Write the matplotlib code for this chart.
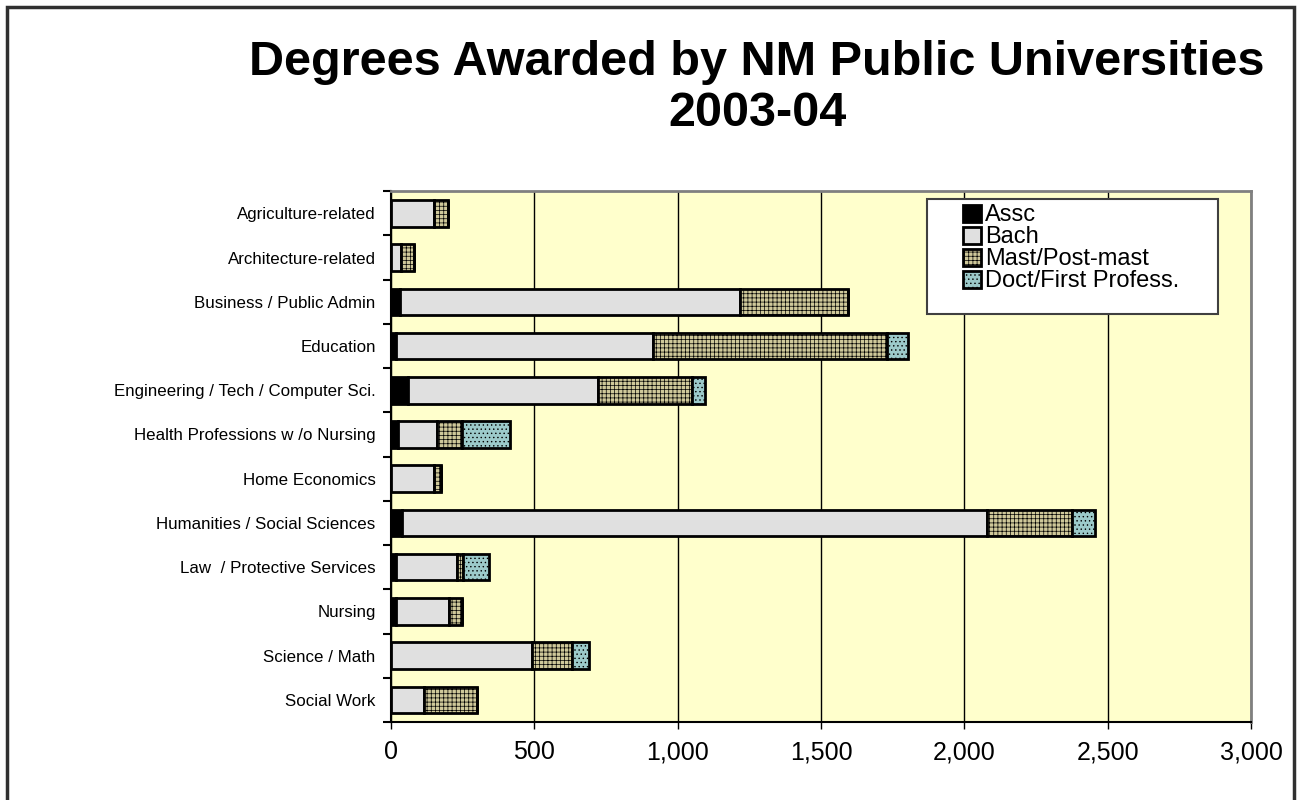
import numpy as np
import matplotlib.pyplot as plt
from matplotlib.patches import Rectangle
from matplotlib.ticker import FuncFormatter, MultipleLocator

plt.rcParams['font.family'] = ['Liberation Sans', 'DejaVu Sans']
plt.rcParams['hatch.linewidth'] = 0.5

categories = ['Agriculture-related', 'Architecture-related', 'Business / Public Admin',
              'Education', 'Engineering / Tech / Computer Sci.', 'Health Professions w /o Nursing',
              'Home Economics', 'Humanities / Social Sciences', 'Law  / Protective Services',
              'Nursing', 'Science / Math', 'Social Work']
assc = [0, 0, 31, 17, 60, 23, 0, 38, 16, 16, 0, 0]
bach = [150, 35, 1187, 896, 663, 136, 150, 2042, 215, 186, 493, 115]
mast = [48, 46, 377, 819, 326, 88, 24, 297, 21, 46, 139, 184]
doct = [0, 0, 0, 73, 47, 168, 0, 79, 90, 0, 58, 0]

series = [
    ('Assc', assc, '#000000', None),
    ('Bach', bach, '#E0E0E0', None),
    ('Mast/Post-mast', mast, '#CFC89A', '++++'),
    ('Doct/First Profess.', doct, '#9CCACA', '....'),
]

fig = plt.figure(figsize=(13.02, 8.0), dpi=100)
ax = fig.add_axes([0.3003, 0.0975, 0.6605, 0.6635])
ax.set_facecolor('#FFFFCC')

y = np.arange(len(categories))
left = np.zeros(len(categories))
for name, vals, color, hatch in series:
    vals = np.array(vals, dtype=float)
    ax.barh(y, vals, left=left, height=0.6, color=color, edgecolor='black',
            linewidth=2, hatch=hatch, label=name, zorder=3)
    left += vals

ax.set_xlim(0, 3000)
ax.set_ylim(len(categories) - 0.5, -0.5)
ax.xaxis.set_major_locator(MultipleLocator(500))
ax.xaxis.set_major_formatter(FuncFormatter(lambda v, p: f'{int(v):,}'))
ax.grid(axis='x', color='black', linewidth=1, zorder=0)
ax.set_axisbelow(True)

ax.set_yticks(y)
ax.set_yticklabels(categories, fontsize=12.2)
ax.set_yticks(np.arange(len(categories) + 1) - 0.5, minor=True)
ax.tick_params(axis='y', which='major', length=0, pad=11)
ax.tick_params(axis='y', which='minor', length=6, width=1.5, direction='out')
ax.tick_params(axis='x', labelsize=18, length=5, width=1, direction='out', pad=8)

for s in ['top', 'right']:
    ax.spines[s].set_color('#808080')
    ax.spines[s].set_linewidth(2)
ax.spines['left'].set_linewidth(1.5)
ax.spines['bottom'].set_linewidth(1.5)

# legend box drawn separately (Excel puts extra room on the left)
ax.add_patch(Rectangle((0.623, 0.768), 0.3386, 0.217, transform=ax.transAxes,
                       facecolor='white', edgecolor='#404040', linewidth=1.5,
                       zorder=4))
leg = ax.legend(loc='upper left', bbox_to_anchor=(0.665, 0.975), fontsize=17,
                frameon=False, labelspacing=0.0, handlelength=0.75,
                handleheight=0.75, handletextpad=0.2, borderpad=0,
                borderaxespad=0)
leg.set_zorder(5)

fig.text(0.5815, 0.922, 'Degrees Awarded by NM Public Universities', ha='center',
         va='center', fontsize=35, fontweight='bold')
fig.text(0.5815, 0.858, '2003-04', ha='center', va='center', fontsize=35,
         fontweight='bold')

fig.patches.append(Rectangle((7 / 1302, -0.05), 1287 / 1302, 1 - 7 / 800 + 0.05,
                             transform=fig.transFigure, fill=False,
                             edgecolor='#303030', linewidth=2.5))

fig.savefig('out.png', dpi=100)
